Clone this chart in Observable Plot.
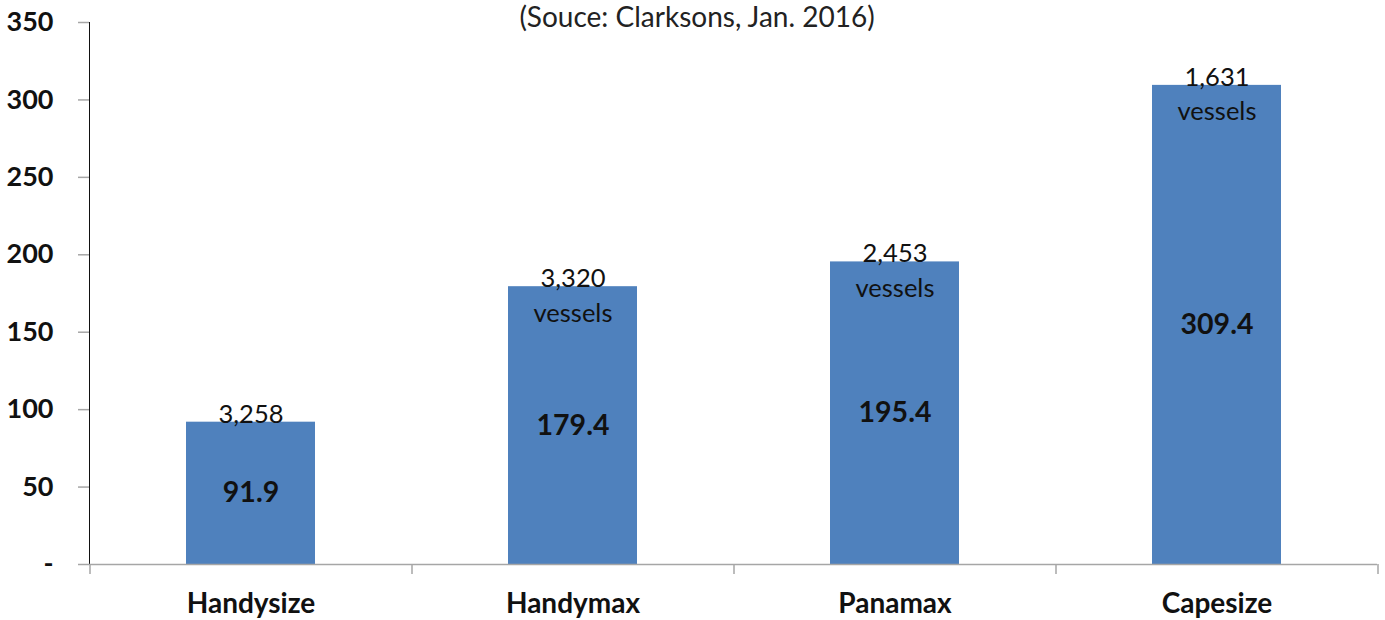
<!DOCTYPE html>
<html>
<head>
<meta charset="utf-8">
<script src="https://cdn.jsdelivr.net/npm/d3@7"></script>
<script src="https://cdn.jsdelivr.net/npm/@observablehq/plot@0.6"></script>
<style>
  html, body { margin: 0; padding: 0; background: #fff; }
  #chart { width: 1385px; height: 620px; }
</style>
</head>
<body>
<div id="chart"></div>
<script>
const categories = ["Handysize", "Handymax", "Panamax", "Capesize"];
const values = [91.9, 179.4, 195.4, 309.4];
const vesselLabels = ["3,258", "3,320\nvessels", "2,453\nvessels", "1,631\nvessels"];
const yTicks = [0, 50, 100, 150, 200, 250, 300, 350];
const title = "(Souce: Clarksons, Jan. 2016)";

const data = categories.map((c, i) => ({cat: c, value: values[i], vessels: vesselLabels[i]}));

const W = 1385, H = 620;
const mL = 89, mR = 8, mT = 22, mB = 56;
const step = (W - mL - mR) / categories.length;

const plot = Plot.plot({
  width: W,
  height: H,
  marginLeft: mL,
  marginRight: mR,
  marginTop: mT,
  marginBottom: mB,
  style: {fontFamily: "Lato, sans-serif", background: "#fff", color: "#111"},
  x: {domain: categories, paddingInner: 0.6, paddingOuter: 0.3, label: null, tickSize: 0, tickPadding: 29},
  y: {domain: [0, 350], ticks: yTicks, label: null, tickSize: 11, tickPadding: 25, line: true,
      tickFormat: d => d === 0 ? "-" : String(d)},
  marks: [
    Plot.barY(data, {x: "cat", y: "value", fill: "#4f81bd"}),
    Plot.ruleY([0], {stroke: "#a6a6a6", strokeWidth: 1.5}),
    Plot.ruleX(categories, {x: d => d, dx: -step / 2, y1: 0, y2: -6.5, stroke: "#a6a6a6", strokeWidth: 1.5}),
    Plot.ruleX(categories.slice(-1), {x: d => d, dx: step / 2, y1: 0, y2: -6.5, stroke: "#a6a6a6", strokeWidth: 1.5}),
    Plot.text(data, {x: "cat", y: d => d.value / 2, text: d => String(d.value), fontSize: 28.5, fontWeight: "bold", fill: "#111"}),
    Plot.text(data, {x: "cat", y: "value", text: "vessels", lineAnchor: "top", dy: -24, fontSize: 25.5, lineHeight: 1.35, fill: "#111"}),
    Plot.text([title], {frameAnchor: "top", text: d => d, dx: -(mL - mR) / 2 + 4, dy: -15, lineAnchor: "top", fontSize: 28, fill: "#222"})
  ]
});

plot.querySelectorAll('g[aria-label="y-axis tick label"], g[aria-label="x-axis tick label"]').forEach(g => {
  g.setAttribute("font-weight", "bold");
  g.setAttribute("fill", "#111");
});
plot.querySelectorAll('g[aria-label="y-axis tick label"]').forEach(g => g.setAttribute("font-size", "27"));
plot.querySelectorAll('g[aria-label="x-axis tick label"]').forEach(g => g.setAttribute("font-size", "28"));
plot.querySelectorAll('g[aria-label="y-axis tick"], g[aria-label="y-axis line"]').forEach(g => {
  g.setAttribute("stroke", "#a6a6a6");
  g.setAttribute("stroke-width", "1.5");
});
document.getElementById("chart").appendChild(plot);
</script>
</body>
</html>
